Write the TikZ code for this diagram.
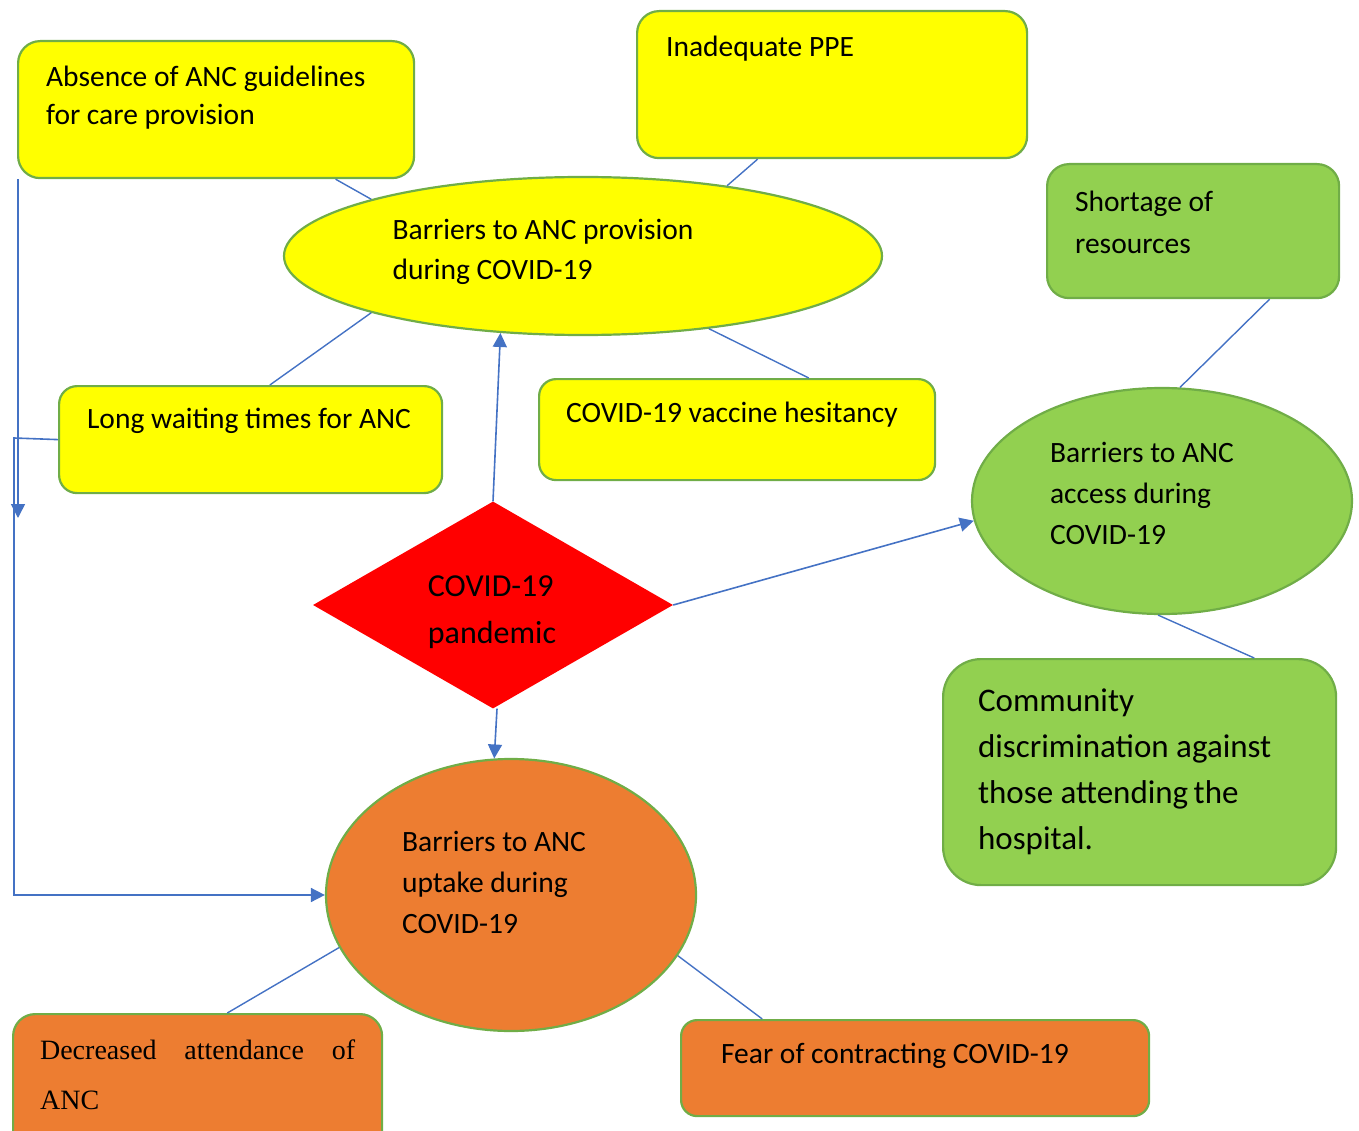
\documentclass[tikz,border=0pt]{standalone}
\usepackage{fontspec}
\setmainfont{Carlito}
\newfontfamily\timesfont{Liberation Serif}
\usepackage{xcolor}
\usetikzlibrary{
  shapes.geometric,
  arrows.meta,
  positioning,
  calc
}
\definecolor{ancyellow}{RGB}{255,255,0}
\definecolor{ancgreen}{RGB}{146,208,80}
\definecolor{ancorange}{RGB}{237,125,49}
\definecolor{ancred}{RGB}{255,0,0}
\definecolor{ancedge}{RGB}{112,173,71}
\definecolor{ancblue}{RGB}{68,114,196}
\newcommand{\cardtext}[3]{\parbox[c][#2][t]{#1}{#3}}

\begin{document}
\begin{tikzpicture}[x=1pt,y=-1pt,
  card/.style={
    draw=ancedge, line width=2.2pt, anchor=north west,
    inner xsep=28pt, inner ysep=24.5pt,
    font=\fontsize{29.5}{38}\selectfont
  },
  blob/.style={ellipse, draw=ancedge, line width=2.2pt, inner sep=0pt},
  blobtext/.style={align=left, inner sep=0pt, font=\fontsize{29.5}{41}\selectfont},
  link/.style={draw=ancblue, line width=1.4pt},
  flow/.style={-{Triangle[length=14pt,width=14pt]}, draw=ancblue, line width=1.6pt}
]
  \useasboundingbox (0,0) rectangle (1359,1131);

  % provision side
  \node[card, fill=ancyellow, rounded corners=22pt] (absence) at (17,40)
    {\cardtext{340pt}{88pt}{Absence of ANC guidelines\\for care provision}};
  \node[card, fill=ancyellow, rounded corners=22pt, inner xsep=29pt] (ppe) at (636,10)
    {\cardtext{332pt}{98pt}{Inadequate PPE}};
  \node[card, fill=ancyellow, rounded corners=18pt, inner ysep=22.5pt] (waiting) at (58,385)
    {\cardtext{327pt}{62pt}{Long waiting times for ANC}};
  \node[card, fill=ancyellow, rounded corners=17pt, inner xsep=27pt, inner ysep=22.5pt] (vaccine) at (538,378)
    {\cardtext{342pt}{56pt}{COVID-19 vaccine hesitancy}};
  \node[blob, fill=ancyellow, minimum width=598pt, minimum height=158pt,
    label={[blobtext, xshift=-40pt, yshift=4pt, font=\fontsize{29.5}{40}\selectfont]center:{Barriers to ANC provision\\during COVID-19}}]
    (provision) at (583,256) {};

  % access side
  \node[card, fill=ancgreen, rounded corners=22pt, inner ysep=27pt,
    font=\fontsize{29.5}{42}\selectfont] (shortage) at (1046,163)
    {\cardtext{236pt}{80pt}{Shortage of\\resources}};
  \node[blob, fill=ancgreen, minimum width=380pt, minimum height=226pt,
    label={[blobtext, xshift=-20pt, yshift=8pt]center:{Barriers to ANC\\access during\\COVID-19}}]
    (access) at (1162,501) {};
  \node[card, fill=ancgreen, rounded corners=38pt, inner xsep=35pt, inner ysep=30pt,
    font=\fontsize{33}{46}\selectfont] (community) at (942,658)
    {\cardtext{323pt}{166pt}{Community\\discrimination against\\those attending\,the\\hospital.}};

  % centre
  \node[diamond, fill=ancred, minimum width=360pt, minimum height=207pt, inner sep=0pt,
    label={[blobtext, xshift=-1pt, yshift=-7pt, font=\fontsize{32}{47}\selectfont]center:{COVID-19\\pandemic}}]
    (pandemic) at (493,605) {};

  % uptake side
  \node[blob, fill=ancorange, minimum width=370pt, minimum height=272pt,
    label={[blobtext, xshift=-17pt, yshift=13pt]center:{Barriers to ANC\\uptake during\\COVID-19}}]
    (uptake) at (511,895) {};
  \node[card, fill=ancorange, rounded corners=22pt, inner xsep=27pt, inner ysep=26pt,
    font=\timesfont\fontsize{28}{50}\selectfont] (attendance) at (12,1013)
    {\cardtext{315pt}{92pt}{\makebox[315pt][s]{Decreased attendance of}\\ANC}};
  \node[card, fill=ancorange, rounded corners=16pt, inner xsep=40pt, inner ysep=22.5pt] (fear) at (680,1019)
    {\cardtext{388pt}{51pt}{Fear of contracting COVID-19}};

  % plain links
  \draw[link] ($(absence.south west)!0.8!(absence.south east)$) -- (provision.165);
  \draw[link] ($(ppe.south west)!0.31!(ppe.south east)$) -- (provision.26);
  \draw[link] ($(waiting.north west)!0.55!(waiting.north east)$) -- (provision.195);
  \draw[link] ($(vaccine.north west)!0.68!(vaccine.north east)$) -- (provision.330);
  \draw[link] ($(shortage.south west)!0.76!(shortage.south east)$) -- (access.81);
  \draw[link] (access.268) -- ($(community.north west)!0.79!(community.north east)$);
  \draw[link] (uptake.197) -- ($(attendance.north west)!0.58!(attendance.north east)$);
  \draw[link] (uptake.340) -- ($(fear.north west)!0.175!(fear.north east)$);

  % arrows from the pandemic
  \draw[flow] (pandemic.north) -- (provision.223);
  \draw[flow] (pandemic.east) -- (access.186);
  \draw[flow] ([xshift=4pt]pandemic.south) -- (uptake.97);

  % left-hand routes
  \coordinate (absdrop) at (18,518);
  \coordinate (leftbend) at (14,438);
  \draw[flow] ([xshift=1pt]absence.south west) -- (absdrop);
  \draw[flow] (waiting.west) -- (leftbend) |- (uptake.west);
\end{tikzpicture}
\end{document}
